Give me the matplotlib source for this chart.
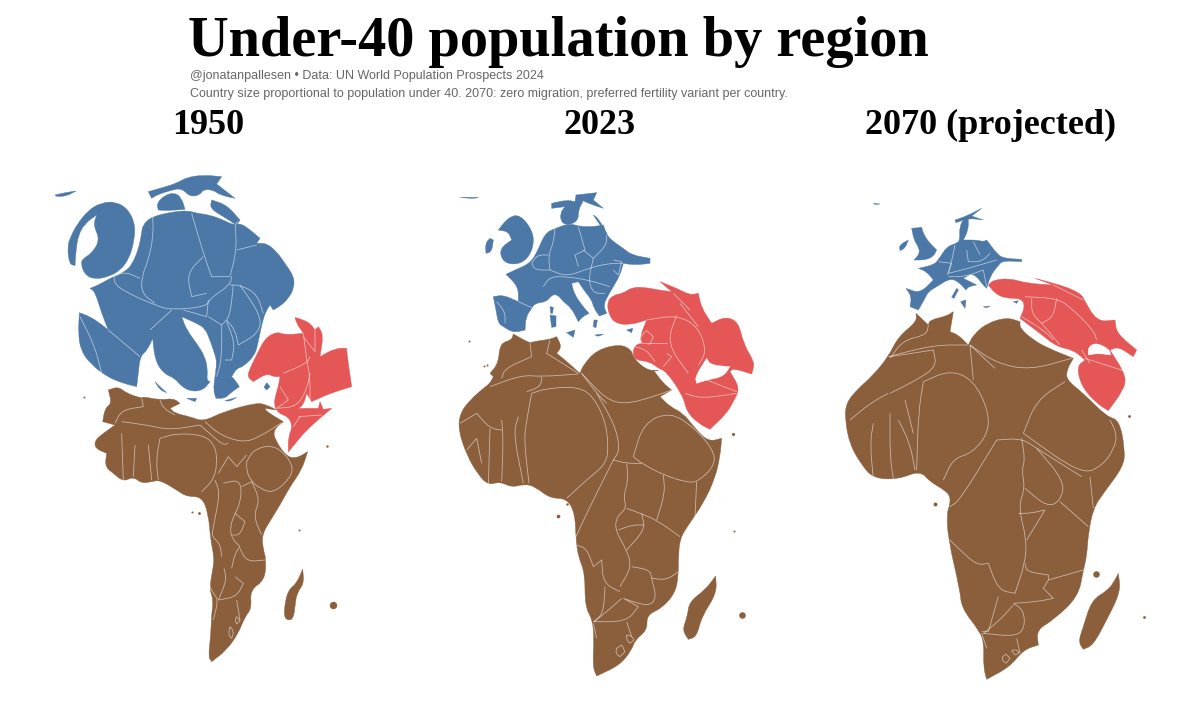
import math
import matplotlib
matplotlib.use("Agg")
from matplotlib import pyplot as plt
from matplotlib.path import Path
from matplotlib.patches import PathPatch

BLUE = "#4C78A8"
RED = "#E45756"
BROWN = "#8B5E3C"

# outlines were traced from 3x crops, so each group has a crop origin
# --- 1950 ---
ORIGIN_1950_N = (40, 160)
ORIGIN_1950_S = (80, 380)

blue_1950 = [
    [(308,195),(335,170),(400,155),(445,152),(470,160),(510,165),(550,180),(580,195),(600,190),(625,205),(660,235),(650,250),(680,250),(710,275),(735,310),(762,350),(762,385),(745,415),(725,435),(700,450),(690,435),(680,450),(668,480),(655,545),(645,585),(610,620),(590,625),(575,650),(585,660),(598,680),(570,700),(555,715),(528,715),(520,690),(525,650),(530,610),(527,590),(510,540),(495,505),(470,490),(425,470),(440,510),(470,550),(495,590),(503,630),(500,660),(510,665),(490,690),(455,695),(425,680),(405,655),(370,640),(345,600),(338,535),(322,570),(300,590),(295,640),(290,680),(250,670),(200,650),(150,610),(122,570),(115,520),(118,458),(150,470),(180,490),(205,510),(185,460),(165,395),(150,385),(175,375),(220,350),(255,335),(275,315),(295,270),(305,220)],
    [(82,260),(92,230),(110,195),(145,150),(185,128),(225,125),(262,145),(285,190),(283,240),(268,295),(240,332),(205,350),(165,358),(135,345),(122,310),(130,295),(155,280),(180,240),(160,195),(170,165),(135,190),(115,225),(108,270),(105,317),(88,312)],
    [(325,95),(360,85),(410,70),(440,52),(490,45),(545,50),(530,72),(585,115),(540,105),(520,90),(490,88),(480,105),(450,110),(425,85),(395,90),(350,105),(335,115)],
    [(350,130),(375,105),(405,98),(425,115),(435,148),(380,152),(355,150)],
    [(515,120),(560,135),(600,180),(590,195),(550,170),(510,145)],
    [(45,105),(75,98),(108,93),(80,108),(50,110)],
    [(440,715),(470,715),(465,725)],
    [(672,682),(680,668),(690,680),(680,690)],
    [(345,665),(365,685),(380,698),(360,690)],
    [(555,722),(590,712),(570,724)],
]
blue_1950_borders = [
    [(338,165),(340,230),(325,300),(305,350),(305,400),(345,430)],
    [(455,160),(490,280),(515,350),(570,350),(590,270),(585,190),(595,185)],
    [(590,270),(650,255)],
    [(575,350),(570,375),(510,415),(500,440),(390,450),(345,435),(275,405),(225,375),(222,350),(255,335),(300,355)],
    [(490,290),(440,340),(455,410),(500,400)],
    [(570,375),(600,375),(650,400),(670,460)],
    [(580,375),(570,470),(545,495),(505,470)],
    [(505,420),(500,470),(430,450)],
    [(395,450),(330,510)],
    [(600,375),(665,470),(655,520),(595,555),(585,510),(560,480)],
    [(560,485),(585,550),(575,600),(555,600)],
    [(545,495),(545,600),(530,650)],
    [(120,470),(165,560),(185,640)],
    [(205,510),(300,590)],
]
red_1950 = [
    [(765,472),(790,480),(810,490),(825,510),(835,500),(850,525),(840,590),(885,565),(920,565),(922,590),(935,680),(870,700),(815,725),(800,700),(790,735),(775,745),(835,745),(840,725),(850,748),(875,745),(845,770),(800,810),(770,845),(745,876),(745,830),(758,800),(745,770),(715,760),(700,730),(715,680),(720,650),(700,650),(680,640),(640,665),(622,650),(630,625),(650,585),(675,535),(710,515),(735,525),(790,520),(770,490)],
]
red_1950_borders = [
    [(790,520),(800,600),(810,650),(810,720)],
    [(730,640),(800,610),(810,590)],
    [(720,680),(745,720),(710,745),(770,740),(800,690),(810,640)],
    [(790,530),(825,575),(825,510)],
    [(775,770),(845,765)],
    [(760,800),(780,770)],
]
africa_1950 = [
    [(85,30),(115,20),(140,40),(185,55),(190,50),(240,60),(280,55),(300,70),(270,85),(285,100),(330,110),(370,125),(430,95),(530,68),(560,75),(590,90),(555,85),(560,95),(610,125),(580,150),(585,180),(620,230),(650,235),(683,215),(665,270),(630,320),(600,375),(575,415),(545,465),(550,510),(558,535),(555,600),(510,630),(515,685),(495,710),(475,760),(440,810),(395,845),(385,830),(392,770),(395,700),(400,660),(388,625),(400,560),(402,530),(392,480),(385,400),(365,350),(320,350),(290,330),(240,300),(215,305),(185,310),(160,290),(130,305),(100,280),(75,260),(80,220),(45,205),(45,180),(70,160),(105,135),(68,125),(75,85),(95,70)],
    [(668,567),(672,610),(650,640),(645,680),(640,715),(625,722),(612,710),(615,670),(625,630),(650,610)],
]
africa_1950_borders = [
    [(375,125),(420,165),(490,188),(540,170),(605,128)],
    [(360,135),(400,170),(430,195),(445,190)],
    [(240,175),(290,160),(370,165),(405,195),(412,250),(400,300),(365,335)],
    [(240,175),(228,240),(235,300)],
    [(125,125),(200,135),(270,150),(360,135)],
    [(185,55),(190,80),(125,90),(105,130)],
    [(240,60),(250,85),(285,105)],
    [(500,245),(520,210),(570,195),(610,215),(640,260),(630,295),(580,340),(540,325),(515,305),(500,275),(500,245)],
    [(430,310),(470,300),(485,320),(480,370),(465,400),(450,440),(455,475),(480,500),(465,520),(455,565)],
    [(515,305),(540,360),(520,408),(545,465)],
    [(485,320),(515,305)],
    [(465,400),(495,425),(480,465),(455,465)],
    [(405,300),(420,340),(400,440),(395,470),(420,490),(425,530)],
    [(415,280),(445,230),(470,260),(500,225)],
    [(480,505),(500,545),(555,540)],
    [(432,565),(440,600),(415,660)],
    [(415,660),(470,650),(490,610),(465,590)],
    [(470,660),(480,720)],
    [(165,195),(160,290)],
    [(205,195),(215,300)],
    [(125,160),(130,305)],
    [(390,620),(400,640),(415,660),(400,720)],
    [(450,740),(462,755),(455,775),(445,765),(450,740)],
    [(470,710),(480,722),(470,732),(465,720),(470,710)],
]
dots_1950 = [(333,605,28),(199,513,4),(192,512,2),(84,397,2),(327,446,3),(299,530,2)]

# --- 2023 ---
ORIGIN_2023_N = (450, 180)
ORIGIN_2023_S = (450, 400)

blue_2023 = [
    [(168,283),(195,270),(240,250),(262,215),(285,160),(315,145),(360,130),(390,140),(430,140),(460,135),(470,165),(490,185),(520,205),(545,225),(600,235),(600,250),(555,255),(520,250),(510,285),(490,320),(475,345),(460,375),(470,400),(448,408),(432,385),(425,360),(405,335),(385,305),(365,310),(372,340),(395,375),(417,400),(398,410),(385,425),(365,385),(340,365),(322,343),(305,345),(290,365),(255,370),(245,385),(228,410),(225,450),(190,458),(160,440),(145,430),(138,390),(130,350),(160,345),(205,365),(205,320)],
    [(145,150),(175,112),(210,103),(250,155),(250,205),(225,245),(185,255),(155,240),(150,205),(185,180),(175,155)],
    [(120,175),(130,180),(125,215),(108,220),(106,190)],
    [(305,70),(350,60),(375,65),(378,45),(440,38),(430,60),(460,85),(415,70),(400,62),(385,90),(385,120),(360,135),(335,130),(330,100),(345,80),(305,85)],
    [(430,105),(445,115),(470,160),(450,135)],
    [(30,52),(85,52),(70,56)],
    [(300,405),(318,408),(318,440),(305,442)],
    [(300,380),(310,382),(308,400),(302,400)],
    [(350,458),(375,450),(370,472)],
    [(435,465),(460,462),(445,470)],
    [(530,450),(548,445),(545,458)],
    [(432,420),(442,420),(438,443),(430,440)],
]
blue_2023_borders = [
    [(315,145),(310,190),(295,225),(300,270)],
    [(245,250),(262,225),(295,225)],
    [(245,250),(255,270),(300,270)],
    [(385,140),(405,210),(375,225),(385,260)],
    [(400,210),(430,235),(470,195),(470,165)],
    [(300,270),(350,290),(415,265),(475,250),(520,250)],
    [(280,320),(300,290),(350,290),(415,300),(480,320)],
    [(205,365),(250,385)],
    [(140,365),(165,395),(165,430)],
    [(430,235),(415,300),(430,340),(465,340)],
    [(490,240),(515,245),(505,285),(490,270)],
]
red_2023 = [
    [(472,365),(490,345),(520,340),(545,322),(585,322),(625,330),(665,335),(630,305),(680,325),(720,345),(745,340),(755,385),(785,430),(825,410),(865,425),(880,490),(912,545),(910,565),(905,582),(850,565),(840,575),(870,625),(850,665),(830,700),(780,748),(745,730),(710,695),(700,650),(650,575),(625,565),(600,545),(555,540),(548,520),(555,495),(575,490),(570,470),(590,420),(540,435),(495,430),(475,400)],
]
red_2023_borders = [
    [(590,420),(680,405),(745,440),(770,515),(745,555)],
    [(680,405),(650,490),(715,580)],
    [(590,490),(650,490)],
    [(555,500),(590,510),(615,545)],
    [(590,452),(610,470),(600,492),(575,490),(570,470),(590,452)],
    [(650,520),(665,530),(640,560)],
    [(690,370),(745,440)],
    [(670,340),(720,390)],
    [(705,640),(750,655),(830,645),(860,640)],
    [(770,600),(860,635)],
]
gulf_2023 = [(735,590),(770,535),(782,555),(840,560),(820,590),(770,600),(740,610)]
africa_2023 = [
    [(30,40),(60,0),(100,-35),(120,-50),(130,-70),(120,-80),(145,-110),(150,-170),(185,-180),(190,-198),(240,-170),(248,-175),(300,-182),(320,-190),(335,-160),(320,-140),(345,-120),(390,-80),(400,-105),(440,-150),(510,-168),(545,-150),(550,-125),(590,-90),(625,-88),(610,-90),(640,-50),(665,-30),(630,-10),(660,20),(700,40),(735,85),(775,125),(815,115),(810,170),(795,235),(760,310),(715,375),(690,415),(685,470),(685,530),(675,580),(635,625),(590,645),(592,690),(555,720),(545,750),(510,795),(440,828),(428,800),(432,720),(428,660),(405,620),(405,520),(385,470),(378,420),(375,340),(350,295),(300,295),(255,260),(225,252),(185,262),(150,245),(115,255),(85,225),(50,165),(25,90)],
    [(797,528),(800,580),(755,650),(740,710),(715,718),(697,690),(712,650),(718,605),(765,570)],
]
africa_2023_borders = [
    [(245,-20),(290,-35),(385,-40),(430,-10),(465,60),(475,130),(470,190),(415,235),(350,295)],
    [(245,-20),(230,60),(222,120),(237,250)],
    [(395,-80),(470,0),(530,12),(610,-10),(665,-30)],
    [(395,-80),(440,-20),(470,10)],
    [(440,-20),(495,75),(510,150),(490,180)],
    [(120,-40),(215,-75),(275,-70),(385,-78)],
    [(240,-170),(245,-130),(165,-95),(155,-65)],
    [(300,-180),(290,-140),(385,-80)],
    [(275,-70),(272,-40),(230,-25)],
    [(550,170),(580,70),(660,35),(735,85),(790,150),(795,195),(750,240),(720,250),(640,225),(575,190),(550,170)],
    [(490,180),(530,190),(575,190)],
    [(490,180),(410,340),(378,410)],
    [(530,190),(535,240),(520,290),(530,325),(500,350),(495,390),(530,450),(545,500),(510,560)],
    [(530,325),(570,340),(620,360),(690,410)],
    [(640,225),(645,280),(620,360)],
    [(740,245),(735,350)],
    [(530,450),(575,400),(582,375),(545,375),(505,390)],
    [(575,340),(582,375)],
    [(545,500),(600,510),(605,535),(650,540),(685,515)],
    [(378,435),(410,445),(430,500),(455,480),(460,550),(510,575)],
    [(465,560),(460,640),(432,665)],
    [(515,595),(470,635),(432,665)],
    [(430,665),(530,665),(565,620),(520,595),(595,620),(620,595),(605,535)],
    [(530,665),(545,710)],
    [(430,670),(440,715)],
    [(155,60),(160,120),(155,245)],
    [(205,50),(190,100),(220,250)],
    [(120,85),(115,255)],
    [(50,150),(80,115),(95,190)],
    [(30,70),(80,40),(120,85),(155,90)],
    [(530,705),(545,708),(552,720),(540,730),(530,720),(530,705)],
    [(500,745),(515,735),(525,755),(510,770),(497,760),(500,745)],
]
dots_2023 = [(742,615,22),(558,516,7),(567,504,3),(734,531,2),(733,434,5),(469,341,2),(484,366,2),(487,365,2)]

# --- 2070 ---
ORIGIN_2070_N = (840, 190)
ORIGIN_2070_S = (840, 400)

blue_2070 = [
    [(235,235),(280,225),(295,210),(320,170),(350,160),(360,150),(358,110),(375,80),(385,80),(385,120),(370,150),(410,150),(430,155),(440,150),(470,190),(490,205),(545,208),(545,215),(490,212),(475,225),(450,260),(440,295),(425,280),(415,265),(395,250),(370,265),(410,285),(385,290),(378,300),(355,275),(330,265),(290,290),(265,305),(255,325),(235,360),(210,350),(215,320),(198,295),(240,310),(280,270),(260,245)],
    [(215,115),(245,112),(250,130),(265,155),(290,180),(280,200),(255,210),(222,210),(240,190),(235,170),(222,150)],
    [(178,165),(205,150),(195,175),(180,182)],
    [(345,90),(380,78),(425,55),(395,78),(430,90),(390,85),(365,92),(348,98)],
    [(350,295),(355,300),(342,325),(335,322)],
    [(362,335),(378,330),(375,355)],
    [(430,350),(450,348),(440,354)],
    [(520,335),(535,332),(530,340)],
    [(100,40),(120,42),(105,44)],
]
blue_2070_borders = [
    [(345,165),(335,215),(322,255)],
    [(295,215),(335,220),(325,250),(385,235),(470,210)],
    [(380,180),(385,215),(425,215),(450,190)],
    [(400,155),(420,195)],
    [(325,260),(375,260),(430,240),(440,290)],
]
red_2070 = [
    [(445,285),(460,270),(510,265),(560,280),(640,285),(585,265),(660,285),(700,300),(725,315),(730,325),(770,395),(825,390),(830,430),(890,480),(880,500),(835,470),(810,480),(860,560),(850,600),(805,662),(770,640),(725,590),(710,530),(735,510),(700,480),(650,470),(600,430),(540,385),(555,350),(545,325),(495,325),(465,310)],
]
red_2070_borders = [
    [(555,320),(650,325),(690,350),(760,420),(770,450)],
    [(650,325),(640,380),(605,400),(660,465)],
    [(575,325),(575,370),(605,400)],
    [(545,380),(610,420),(640,450)],
    [(735,505),(860,545),(855,580)],
    [(640,285),(730,330)],
    [(725,480),(750,520)],
]
gulf_2070 = [(745,470),(770,458),(808,478),(812,495),(775,490),(745,495)]
africa_2070 = [
    [(18,10),(50,-30),(100,-75),(145,-130),(175,-190),(230,-235),(228,-260),(265,-225),(270,-240),(320,-252),(340,-265),(330,-205),(355,-195),(385,-165),(400,-195),(440,-230),(500,-248),(540,-235),(540,-215),(580,-180),(625,-155),(700,-125),(680,-90),(680,-60),(730,-20),(800,50),(838,60),(855,150),(850,200),(790,280),(760,325),(745,400),(740,470),(730,510),(715,590),(640,660),(590,690),(595,735),(550,750),(510,800),(440,838),(430,800),(432,730),(420,695),(365,625),(360,570),(325,420),(320,340),(330,315),(330,285),(305,265),(270,245),(240,212),(175,238),(100,235),(65,195),(30,135),(15,60)],
    [(835,520),(842,575),(800,660),(760,735),(730,748),(715,725),(730,680),(755,600),(805,570),(825,540)],
]
africa_2070_borders = [
    [(250,-55),(330,-90),(400,-60),(445,30),(445,100),(395,160),(340,175),(310,240)],
    [(250,-55),(235,40),(230,210)],
    [(390,-165),(470,-110),(570,-90),(695,-125)],
    [(390,-165),(400,-60)],
    [(390,-165),(465,-95)],
    [(145,-130),(280,-165),(385,-165)],
    [(150,-125),(190,-180),(260,-195),(265,-225)],
    [(150,-130),(280,-150),(290,-100),(230,-60),(150,-20)],
    [(550,100),(590,0),(675,-55)],
    [(550,100),(725,225),(790,195),(825,140),(830,100),(810,60)],
    [(470,120),(545,115),(590,145),(725,230)],
    [(470,120),(360,300),(330,320)],
    [(545,115),(555,180),(545,210),(555,265),(535,320),(560,420),(555,490),(525,580)],
    [(555,265),(620,320),(660,305),(675,245),(590,145)],
    [(660,305),(745,380)],
    [(750,230),(760,325)],
    [(535,340),(570,340),(615,330),(560,420)],
    [(555,490),(560,515),(625,525),(625,540),(730,510)],
    [(330,420),(360,450),(410,495),(445,490),(475,570),(525,580)],
    [(475,590),(445,695),(425,695)],
    [(520,615),(480,660),(430,700)],
    [(430,700),(530,710),(555,680),(550,630),(520,610),(590,605),(640,595),(610,565),(625,540)],
    [(530,715),(540,760)],
    [(425,700),(440,745)],
    [(150,40),(150,170),(160,235)],
    [(175,60),(210,130),(225,210)],
    [(100,70),(90,130),(100,235)],
    [(195,0),(220,100)],
    [(30,60),(90,10),(145,-20)],
    [(488,770),(498,762),(510,775),(498,790),(486,780),(488,770)],
    [(515,752),(528,748),(538,758),(525,765),(515,752)],
]
dots_2070 = [(1096,574,22),(935,504,8),(1144,617,4),(1129,416,4),(943,488,2)]

title = "Under-40 population by region"
subtitle_1 = "@jonatanpallesen \u2022 Data: UN World Population Prospects 2024"
subtitle_2 = "Country size proportional to population under 40. 2070: zero migration, preferred fertility variant per country."
panel_titles = ["1950", "2023", "2070 (projected)"]
panel_centers = [208, 600, 991]


def shift(points, origin):
    return [(origin[0] + p[0] / 3, origin[1] + p[1] / 3) for p in points]


def is_corner(a, b, c):
    # a hard turn stays a hard turn, gentle ones get rounded
    t1 = math.atan2(b[1] - a[1], b[0] - a[0])
    t2 = math.atan2(c[1] - b[1], c[0] - b[0])
    d = abs(t2 - t1) % (2 * math.pi)
    return min(d, 2 * math.pi - d) > math.radians(70)


def rounded(points, closed):
    # quadratic pieces with the traced points as control points
    n = len(points)
    mid = lambda a, b: ((a[0] + b[0]) / 2, (a[1] + b[1]) / 2)
    if closed:
        verts = [mid(points[-1], points[0])]
        codes = [Path.MOVETO]
        idx = range(n)
    else:
        verts = [points[0], mid(points[0], points[1])]
        codes = [Path.MOVETO, Path.LINETO]
        idx = range(1, n - 1)
    for i in idx:
        a, b = points[(i - 1) % n], points[i]
        c = points[(i + 1) % n]
        if is_corner(a, b, c):
            verts += [b, mid(b, c)]
            codes += [Path.LINETO, Path.LINETO]
        else:
            verts += [b, mid(b, c)]
            codes += [Path.CURVE3, Path.CURVE3]
    if closed:
        verts.append(verts[0])
        codes.append(Path.CLOSEPOLY)
    else:
        verts.append(points[-1])
        codes.append(Path.LINETO)
    return Path(verts, codes)


def draw(ax, shapes, borders, origin, color):
    for shape in shapes:
        ax.add_patch(PathPatch(rounded(shift(shape, origin), True), fc=color, ec=color, lw=0.3, zorder=2))
    for line in borders:
        ax.add_patch(PathPatch(rounded(shift(line, origin), False), fc="none", ec="white", alpha=0.55, lw=0.6, zorder=3))


fig = plt.figure(figsize=(12, 7.1), dpi=100)
ax = fig.add_axes([0, 0, 1, 1])
ax.set_xlim(0, 1200)
ax.set_ylim(710, 0)
ax.axis("off")

draw(ax, blue_1950, blue_1950_borders, ORIGIN_1950_N, BLUE)
draw(ax, red_1950, red_1950_borders, ORIGIN_1950_N, RED)
draw(ax, africa_1950, africa_1950_borders, ORIGIN_1950_S, BROWN)

draw(ax, blue_2023, blue_2023_borders, ORIGIN_2023_N, BLUE)
draw(ax, red_2023, red_2023_borders, ORIGIN_2023_N, RED)
draw(ax, [gulf_2023], [], ORIGIN_2023_N, "white")
draw(ax, africa_2023, africa_2023_borders, ORIGIN_2023_S, BROWN)

draw(ax, blue_2070, blue_2070_borders, ORIGIN_2070_N, BLUE)
draw(ax, red_2070, red_2070_borders, ORIGIN_2070_N, RED)
draw(ax, [gulf_2070], [], ORIGIN_2070_N, "white")
draw(ax, africa_2070, africa_2070_borders, ORIGIN_2070_S, BROWN)

# small islands
for x, y, s in dots_1950 + dots_2023 + dots_2070:
    ax.scatter(x, y, s=s, color=BROWN, lw=0, zorder=2)

ax.text(188, 56, title, family="Liberation Serif", weight="bold", fontsize=40.6, color="black")
ax.text(190, 79, subtitle_1, family="Liberation Sans", fontsize=9.0, color="#666666")
ax.text(190, 97, subtitle_2, family="Liberation Sans", fontsize=9.0, color="#666666")
for label, cx in zip(panel_titles, panel_centers):
    ax.text(cx, 134, label, family="Liberation Serif", weight="bold", fontsize=26, color="black", ha="center")

fig.savefig("out.png", dpi=100)
